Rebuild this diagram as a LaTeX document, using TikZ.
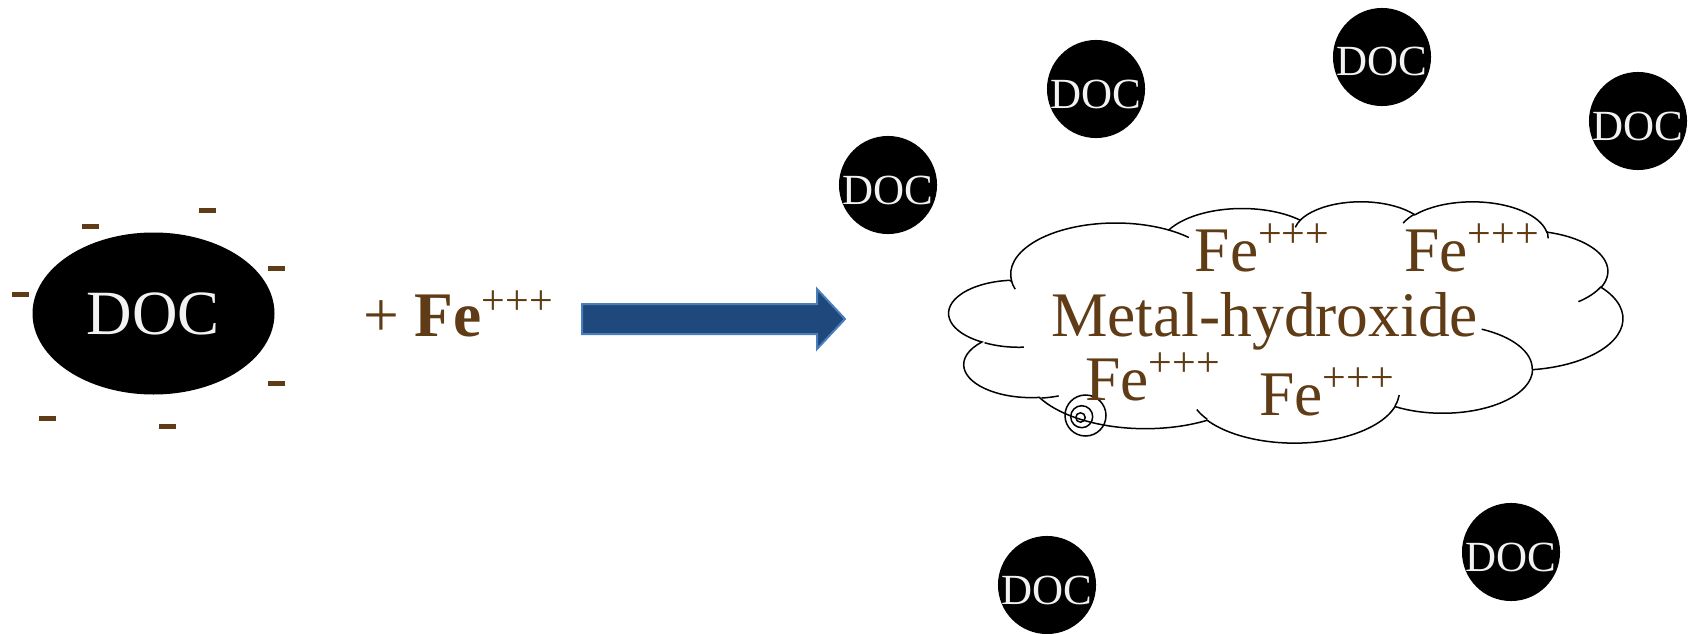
\documentclass[tikz,border=0pt]{standalone}
\usepackage{fontspec}
\setmainfont{Liberation Serif}
\usetikzlibrary{positioning,shapes.geometric,calc}

\definecolor{ionbrown}{RGB}{96,60,22}
\definecolor{docwhite}{RGB}{242,242,242}
\definecolor{arrowblue}{RGB}{31,73,125}
\definecolor{arrowedge}{RGB}{74,126,187}

\newcommand\cloudw{0.015556}
\newcommand\cloudh{0.005579}
\newcommand\cloudpt[2]{({951+#1*\cloudw*1000}, {201+#2*\cloudh*1000})}
\newcommand\cloudarc[4]{let \n1={-atan2(#1*sin(#3),#2*cos(#3))}, \n2={-atan2(#1*sin(#3+#4),#2*cos(#3+#4))}, \n3={-Mod(\n1-\n2,360)} in arc[start angle=\n1, delta angle=\n3, x radius={#1*\cloudw*1pt}, y radius={#2*\cloudh*1pt}]}
\newcommand\feion{Fe\raisebox{24pt}{\fontsize{42}{42}\selectfont +++}}

\begin{document}
\begin{tikzpicture}[x=1pt, y=-1pt,
		doc/.style={circle, fill=black, text=docwhite, minimum size=98pt, inner sep=0pt, text height=38pt, text depth=0pt, font=\fontsize{43}{43}\selectfont},
		bigdoc/.style={ellipse, fill=black, text=docwhite, minimum width=242pt, minimum height=162pt, inner sep=0pt, font=\fontsize{63}{63}\selectfont},
		charge/.style={rectangle, fill=ionbrown, minimum width=17pt, minimum height=5pt, inner sep=0pt},
		ionlabel/.style={text=ionbrown, anchor=base west, inner sep=0pt, font=\fontsize{63.5}{63.5}\selectfont},
		cloudline/.style={draw=black, line width=1.5pt}]
			\useasboundingbox (0, 0) rectangle (1692, 634);
			\clip (0, 0) rectangle (1692, 634);
			
			\node[bigdoc] (1) at (153.5, 313.5) {DOC};
			\node[charge] (2) at (90.6, 226.5) {};
			\node[charge] (3) at (207.3, 210.3) {};
			\node[charge] (4) at (276.3, 268.3) {};
			\node[charge] (5) at (20, 294.5) {};
			\node[charge] (6) at (276.3, 383.2) {};
			\node[charge] (7) at (47.5, 418.5) {};
			\node[charge] (8) at (167.5, 426.7) {};
			
			\node[ionlabel] (9) at (363, 336.7) {+ \textbf{Fe}\raisebox{22pt}{\fontsize{42}{42}\selectfont +++}};
			
			\filldraw[fill=arrowblue, draw=arrowedge, line width=2pt, line join=miter] (582, 304) -- (817, 304) -- (817, 289) -- (845, 319) -- (817, 349) -- (817, 334) -- (582, 334) -- cycle;
			
			\draw[cloudline, fill=white] \cloudpt{3.900}{14.370}
				\cloudarc{6753}{9190}{-190.4875}{123.7805}
				\cloudarc{5333}{7267}{-144.1024}{89.9452}
				\cloudarc{4365}{5945}{-145.8079}{99.7230}
				\cloudarc{4857}{6595}{-130.9861}{117.2417}
				\cloudarc{5333}{7273}{-78.7089}{109.0269}
				\cloudarc{6775}{9220}{-46.2673}{130.2690}
				\cloudarc{5785}{7867}{0.6250}{114.0333}
				\cloudarc{6752}{9215}{22.4516}{115.1726}
				\cloudarc{7720}{10543}{66.2426}{77.8228}
				\cloudarc{4360}{5918}{-274.9421}{146.7356}
				\cloudarc{4345}{5945}{-246.8285}{152.5189} -- cycle;
			\draw[cloudline] \cloudpt{4.693}{26.177} \cloudarc{4345}{5945}{86.7420}{26.4295}
				\cloudpt{6.928}{34.899} \cloudarc{4360}{5918}{73.6105}{11.4475}
				\cloudpt{16.478}{39.090} \cloudarc{6752}{9215}{137.6242}{14.0811}
				\cloudpt{28.827}{34.751} \cloudarc{6752}{9215}{6.4533}{15.9984}
				\cloudpt{34.129}{22.954} \cloudarc{5785}{7867}{-70.2924}{70.9174}
				\cloudpt{41.798}{15.354} \cloudarc{5333}{7273}{30.3180}{27.7515}
				\cloudpt{38.324}{5.426} \cloudarc{4857}{6595}{-13.7443}{14.8589}
				\cloudpt{29.078}{3.952} \cloudarc{4857}{6595}{-149.1815}{18.1954}
				\cloudpt{22.141}{4.720} \cloudarc{4365}{5945}{-163.4943}{17.6864}
				\cloudpt{14.000}{5.192} \cloudarc{6753}{9190}{-66.7070}{12.3194}
				\cloudpt{4.127}{15.789} \cloudarc{6753}{9190}{157.1530}{11.8535};
			\draw[cloudline] (1085.5, 415.5) circle (20.5) (1081.7, 416.7) circle (11) (1080.5, 417.5) circle (4.7);
			
			\node[ionlabel] (10) at (1194.5, 271.7) {\feion};
			\node[ionlabel] (11) at (1404, 271.7) {\feion};
			\node[ionlabel] (12) at (1051, 336) {Metal-hydroxide};
			\node[ionlabel] (13) at (1085, 400) {\feion};
			\node[ionlabel] (14) at (1259, 415) {\feion};
			
			\node[doc] (15) at (1096, 89) {DOC};
			\node[doc] (16) at (1382, 57) {DOC};
			\node[doc] (17) at (1638, 121) {DOC};
			\node[doc] (18) at (888, 185) {DOC};
			\node[doc] (19) at (1047, 585) {DOC};
			\node[doc] (20) at (1511, 552) {DOC};
		\end{tikzpicture}
\end{document}
